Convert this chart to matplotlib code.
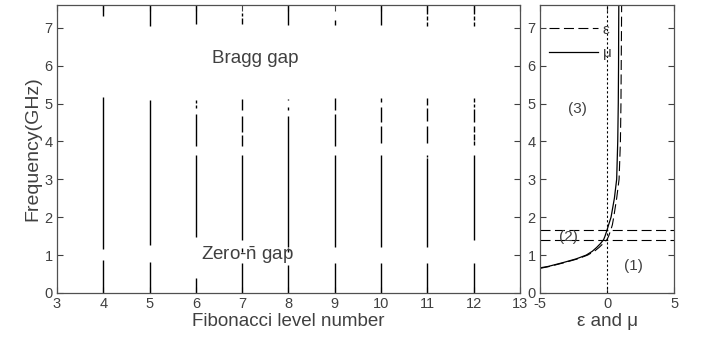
import numpy as np
import matplotlib
matplotlib.use("Agg")
import matplotlib.pyplot as plt

plt.rcParams['font.family'] = ['Liberation Sans', 'DejaVu Sans']
plt.rcParams['mathtext.fontset'] = 'custom'
plt.rcParams['mathtext.rm'] = 'Liberation Sans'
plt.rcParams['axes.unicode_minus'] = False
plt.rcParams['text.color'] = '#404040'
plt.rcParams['axes.labelcolor'] = '#404040'
plt.rcParams['xtick.color'] = '#404040'
plt.rcParams['ytick.color'] = '#404040'

# --- pass bands (GHz) for each Fibonacci level ---
levels = [4, 5, 6, 7, 8, 9, 10, 11, 12]
bands = {
    4: [(0, 0.88), (1.17, 5.18), (7.30, 7.6)],
    5: [(0, 0.82), (1.26, 5.08), (7.05, 7.6)],
    6: [(0, 0.40), (1.47, 3.63), (3.89, 4.73), (4.87, 4.95), (5.02, 5.10), (7.10, 7.6)],
    7: [(0, 0.78), (1.08, 1.20), (1.39, 3.63), (3.89, 4.16), (4.24, 4.68),
        (4.82, 5.13), (7.10, 7.26), (7.32, 7.40)],
    8: [(0, 0.74), (1.08, 1.18), (1.21, 4.68), (4.84, 4.90), (5.08, 5.12), (7.08, 7.6)],
    9: [(0, 0.79), (1.21, 3.63), (3.89, 4.73), (4.82, 5.15), (7.08, 7.20)],
    10: [(0, 0.79), (1.21, 3.63), (3.97, 4.42), (4.50, 4.90), (5.03, 5.15), (7.08, 7.6)],
    11: [(0, 0.79), (1.21, 3.55), (3.58, 3.63), (3.95, 4.42), (4.55, 4.87),
         (4.95, 5.15), (7.05, 7.15), (7.20, 7.30), (7.35, 7.6)],
    12: [(0, 0.79), (1.40, 3.63), (3.90, 4.00), (4.05, 4.20), (4.25, 4.40),
         (4.50, 4.85), (4.90, 5.00), (5.05, 5.15), (7.05, 7.15), (7.20, 7.30), (7.35, 7.6)],
}

# --- effective permittivity / permeability vs frequency ---
freq = [0.65, 0.70, 0.80, 0.90, 1.00, 1.10, 1.20, 1.30, 1.41, 1.50, 1.66,
        1.80, 2.00, 2.50, 3.00, 4.00, 5.00, 6.00, 7.00, 7.60]
eps = [-5.0, -4.3, -3.2, -2.2, -1.45, -0.95, -0.60, -0.30, 0.0, 0.12, 0.28,
       0.40, 0.50, 0.72, 0.90, 1.00, 1.04, 1.06, 1.08, 1.09]
mu = [-5.2, -4.4, -3.3, -2.3, -1.55, -1.10, -0.78, -0.50, -0.25, -0.15, 0.0,
      0.12, 0.30, 0.55, 0.72, 0.80, 0.84, 0.86, 0.87, 0.88]
gap_edges = [1.41, 1.66]

fig = plt.figure(figsize=(7.06, 3.43), dpi=100)
ax1 = fig.add_axes([0.0807, 0.1458, 0.6558, 0.8396])
ax2 = fig.add_axes([0.7649, 0.1458, 0.1898, 0.8396])

for lev in levels:
    lo = [b[0] for b in bands[lev]]
    hi = [b[1] for b in bands[lev]]
    ax1.vlines([lev] * len(lo), lo, hi, colors='black', linewidth=1.0)

ax1.text(7.28, 6.2, "Bragg gap", fontsize=13.5, ha='center', va='center')
ax1.text(7.12, 1.0, r"Zero-$\bar{\mathrm{n}}$ gap", fontsize=13.5, ha='center', va='center')
ax1.set_xlim(3, 13)
ax1.set_ylim(0, 7.6)
ax1.set_xticks(range(3, 14))
ax1.set_yticks(range(0, 8))
ax1.set_xlabel("Fibonacci level number", fontsize=13.5, labelpad=1)
ax1.set_ylabel("Frequency(GHz)", fontsize=14, labelpad=2)

ax2.plot(eps, freq, color='black', linestyle=(0, (9, 4)), linewidth=0.8, label="\u03b5")
ax2.plot(mu, freq, color='black', linestyle='-', linewidth=0.9, label="\u03bc")
for g in gap_edges:
    ax2.axhline(g, color='black', linestyle=(0, (9, 4)), linewidth=0.8)
ax2.axvline(0, color='black', linestyle=(0, (2, 2)), linewidth=0.8)
ax2.text(-2.2, 4.85, "(3)", fontsize=11, ha='center', va='center')
ax2.text(-2.9, 1.47, "(2)", fontsize=11, ha='center', va='center')
ax2.text(1.95, 0.7, "(1)", fontsize=11, ha='center', va='center')
ax2.set_xlim(-5, 5)
ax2.set_ylim(0, 7.6)
ax2.set_xticks([-5, 0, 5])
ax2.set_yticks(range(0, 8))
ax2.set_xlabel("\u03b5 and \u03bc", fontsize=13.5, labelpad=1)
ax2.legend(loc='upper left', frameon=False, fontsize=11, handlelength=3.2,
           borderaxespad=0.2, handletextpad=0.3, labelspacing=0.6,
           bbox_to_anchor=(0.0, 0.97))

for ax in (ax1, ax2):
    ax.tick_params(direction='in', top=True, right=True, labelsize=10.5,
                   length=4, width=0.8, pad=3)
    for s in ax.spines.values():
        s.set_color('#505050')
        s.set_linewidth(0.9)

fig.savefig("out.png", dpi=100)
